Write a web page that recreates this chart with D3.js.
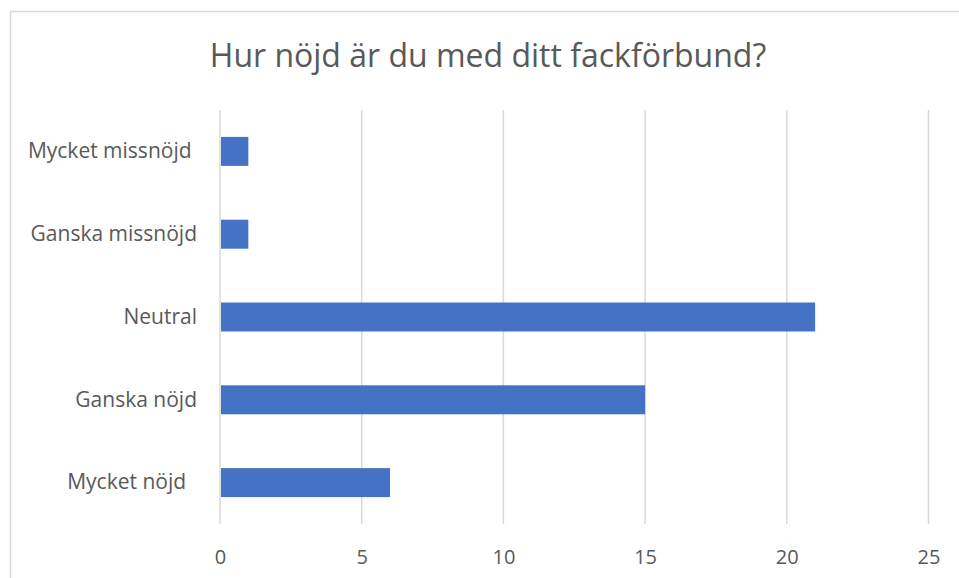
<!DOCTYPE html>
<html>
<head>
<meta charset="utf-8">
<script src="https://cdn.jsdelivr.net/npm/d3@7"></script>
<style>
  body { margin: 0; background: #fff; }
  text { font-family: "Open Sans", sans-serif; fill: #595959; }
  .cat text { white-space: pre; }
</style>
</head>
<body>
<div id="chart"></div>
<script>
// Data
const categories = ["Mycket missnöjd ", "Ganska missnöjd", "Neutral", "Ganska nöjd", "Mycket nöjd  "];
const counts = [1, 1, 21, 15, 6];
const xTicks = [0, 5, 10, 15, 20, 25];
const title = "Hur nöjd är du med ditt fackförbund?";

(function () {
  const [w, h] = [959, 578];
  const left = 220, right = 928.5, top = 110, bottom = 524;

  const barColor = "#4472c4";
  const gridColor = "#d9d9d9";

  const xScale = d3.scaleLinear()
    .domain([0, 25])
    .range([left, right]);

  const yScale = d3.scaleBand()
    .domain(categories)
    .range([top, bottom])
    .paddingInner(0.65)
    .paddingOuter(0.325);

  const svg = d3.select("#chart")
    .append("svg")
    .attr("width", w)
    .attr("height", h);

  // chart border (runs off the right and bottom edge)
  svg.append("rect")
    .attr("x", 10.5)
    .attr("y", 11.5)
    .attr("width", w + 10)
    .attr("height", h + 10)
    .attr("fill", "none")
    .attr("stroke", gridColor)
    .attr("stroke-width", 1.5);

  svg.append("text")
    .attr("x", 488)
    .attr("y", 67)
    .attr("text-anchor", "middle")
    .attr("font-size", 32)
    .text(title);

  // gridlines
  svg.append("g")
    .selectAll("line")
    .data(xTicks)
    .enter()
    .append("line")
    .attr("x1", (d) => xScale(d))
    .attr("x2", (d) => xScale(d))
    .attr("y1", top)
    .attr("y2", bottom)
    .attr("stroke", gridColor)
    .attr("stroke-width", 1.5);

  svg.selectAll("rect.bar")
    .data(counts)
    .enter()
    .append("rect")
    .attr("class", "bar")
    .attr("x", xScale(0) + 1)
    .attr("y", (d, i) => yScale(categories[i]))
    .attr("width", (d) => xScale(d) - xScale(0) - 1)
    .attr("height", yScale.bandwidth())
    .attr("fill", barColor);

  // x axis
  const xAxis = d3.axisBottom(xScale)
    .tickValues(xTicks)
    .tickSize(0)
    .tickPadding(0);

  svg.append("g")
    .attr("transform", `translate(0, ${bottom + 26})`)
    .call(xAxis)
    .call((g) => g.select(".domain").remove())
    .call((g) => g.selectAll("text")
      .attr("font-size", 20)
      .attr("font-family", "Open Sans, sans-serif")
      .attr("fill", "#595959"));

  // y axis
  const yAxis = d3.axisLeft(yScale)
    .tickSize(0)
    .tickPadding(0);

  svg.append("g")
    .attr("class", "cat")
    .attr("transform", `translate(197, 0)`)
    .call(yAxis)
    .call((g) => g.select(".domain").remove())
    .call((g) => g.selectAll("text")
      .attr("font-size", 21)
      .attr("font-family", "Open Sans, sans-serif")
      .attr("fill", "#595959"));
})();
</script>
</body>
</html>
